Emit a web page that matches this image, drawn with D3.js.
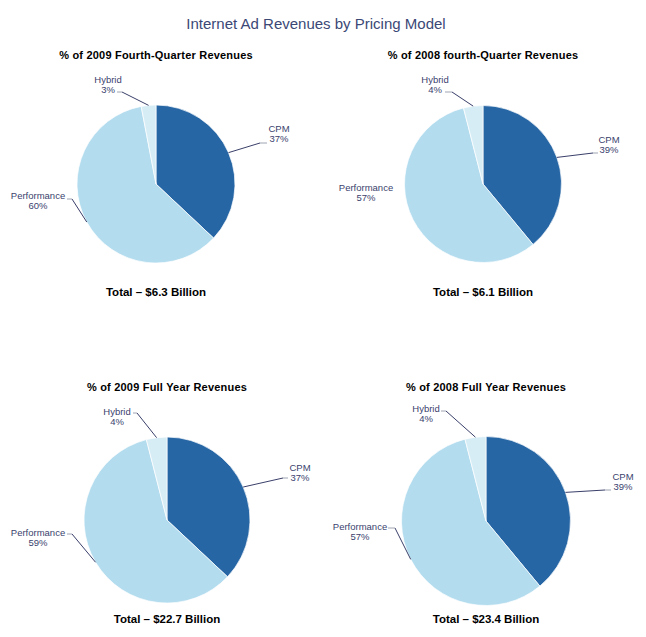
<!DOCTYPE html>
<html>
<head>
<meta charset="utf-8">
<title>Internet Ad Revenues by Pricing Model</title>
<script src="https://cdn.jsdelivr.net/npm/d3@7"></script>
<style>
  body { margin: 0; background: #fff; }
  text { font-family: "Liberation Sans", Arial, sans-serif; }
</style>
</head>
<body>
<script>
// data
var categories = ['CPM', 'Performance', 'Hybrid'];
var chartTitles = [
  '% of 2009 Fourth-Quarter Revenues',
  '% of 2008 fourth-Quarter Revenues',
  '% of 2009 Full Year Revenues',
  '% of 2008 Full Year Revenues'
];
var totals = ['Total – $6.3 Billion', 'Total – $6.1 Billion', 'Total – $22.7 Billion', 'Total – $23.4 Billion'];
var q4_2009 = [37, 60, 3];
var q4_2008 = [39, 57, 4];
var fy_2009 = [37, 59, 4];
var fy_2008 = [39, 57, 4];
var seriesList = [q4_2009, q4_2008, fy_2009, fy_2008];

var colors = d3.scaleOrdinal().domain(categories).range(['#2766a5', '#b3dcee', '#d7edf6']);

var W = 646, H = 637;
var svg = d3.select('body').append('svg').attr('width', W).attr('height', H);

svg.append('text')
  .attr('x', 316).attr('y', 29)
  .attr('text-anchor', 'middle')
  .attr('font-size', '15px')
  .attr('fill', '#3b4876')
  .text('Internet Ad Revenues by Pricing Model');

// layout per chart: center, radius, title / total y, label spots
// label: [textX, textY, elbowX, elbowY, tailX] (null elbow = no leader)
var layout = [
  { cx: 156, cy: 184, r: 79, ty: 59, by: 296,
    labels: [[279, 128, 260, 143, 267], [38, 195, 72, 199, 67], [108, 79, 122, 92, 117]] },
  { cx: 483, cy: 184, r: 78.5, ty: 59, by: 296,
    labels: [[609, 139, 593, 153, 598], [366, 187, null], [435, 79, 452, 92, 445]] },
  { cx: 167, cy: 520, r: 83, ty: 391, by: 623,
    labels: [[300, 467, 283, 478, 288], [38, 532, 72, 534, 67], [117, 411, 137, 413, 133]] },
  { cx: 486, cy: 521, r: 84.5, ty: 391, by: 623,
    labels: [[623, 476, 605, 490, 611], [360, 526, 395, 528, 388], [426, 408, 446, 411, 441]] }
];

var pie = d3.pie().sort(null).value(function(d) { return d.value; });

seriesList.forEach(function(values, k) {
  var L = layout[k];
  var cx = L.cx, cy = L.cy;
  var data = categories.map(function(c, i) { return { name: c, value: values[i] }; });
  var arcs = pie(data);
  var arc = d3.arc().innerRadius(0).outerRadius(L.r);
  var rim = d3.arc().innerRadius(L.r).outerRadius(L.r);

  var g = svg.append('g').attr('transform', 'translate(' + cx + ',' + cy + ')');
  g.selectAll('path')
    .data(arcs)
    .enter()
    .append('path')
    .attr('d', arc)
    .attr('fill', function(d) { return colors(d.data.name); })
    .attr('stroke', '#fff')
    .attr('stroke-width', 0.7);

  // subtitle and total
  svg.append('text')
    .attr('x', cx).attr('y', L.ty)
    .attr('text-anchor', 'middle')
    .attr('font-size', '11px')
    .attr('font-weight', 'bold')
    .attr('letter-spacing', '0.2px')
    .attr('fill', '#000')
    .text(chartTitles[k]);
  svg.append('text')
    .attr('x', cx).attr('y', L.by)
    .attr('text-anchor', 'middle')
    .attr('font-size', '11.5px')
    .attr('font-weight', 'bold')
    .attr('fill', '#000')
    .text(totals[k]);

  // labels with leader lines
  arcs.forEach(function(d, i) {
    var lab = L.labels[i];
    if (lab[2] != null) {
      var p = rim.centroid(d);
      svg.append('polyline')
        .attr('points', [[cx + p[0], cy + p[1]], [lab[2], lab[3]]].join(' '))
        .attr('fill', 'none')
        .attr('stroke', '#3a3f6a')
        .attr('stroke-width', 1);
      svg.append('line')
        .attr('x1', lab[2]).attr('y1', lab[3])
        .attr('x2', lab[4]).attr('y2', lab[3])
        .attr('stroke', '#a0a4b4')
        .attr('stroke-width', 1);
    }
    var t = svg.append('text')
      .attr('text-anchor', 'middle')
      .attr('font-size', '9.5px')
      .attr('fill', '#3a3f6e');
    t.append('tspan').attr('x', lab[0]).attr('y', lab[1] + 3.5).text(d.data.name);
    t.append('tspan').attr('x', lab[0]).attr('y', lab[1] + 14).text(d.data.value + '%');
  });
});
</script>
</body>
</html>
